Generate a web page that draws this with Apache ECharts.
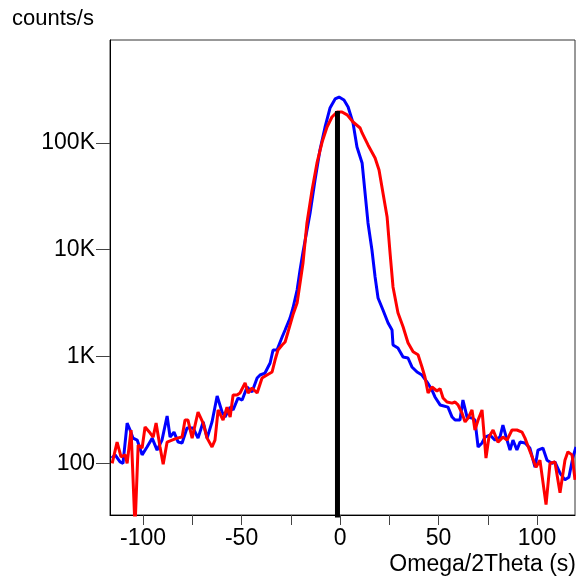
<!DOCTYPE html>
<html>
<head>
<meta charset="utf-8">
<script src="https://cdn.jsdelivr.net/npm/echarts@6/dist/echarts.min.js"></script>
<style>
  html, body { margin: 0; padding: 0; background: #fff; }
  #chart { width: 576px; height: 582px; }
</style>
</head>
<body>
<div id="chart"></div>
<script>
// ── Данные ──────────────────────────────────────────────────────────────────
var blueX = [-115.9, -114.2, -111.7, -110.2, -108.1, -106.6, -105.1, -103, -100.5, -98,
  -95.4, -92.9, -90.4, -87.8, -86.3, -84.3, -82.2, -80.2, -77.7, -74.6,
  -72.1, -69.5, -67.5, -65, -62.4, -59.9, -58.4, -55.8, -54.3, -51.8,
  -49.7, -47.2, -44.7, -42.1, -40.6, -38.1, -35.5, -34, -32, -29.4,
  -27.9, -25.4, -23.9, -21.8, -20.3, -18.8, -15.2, -12.7, -10.2, -7.6,
  -5.1, -2.5, -0.5, 2, 4.1, 6.6, 8.6, 11.2, 12.7, 14.2,
  16.2, 17.8, 19.3, 21.8, 24.4, 26.4, 26.9, 29.4, 32, 34.5,
  36.5, 39.1, 41.6, 44.2, 46.7, 48.2, 50.8, 54.8, 56.9, 58.4,
  60.9, 62.4, 64.5, 67, 68.5, 70.1, 72.1, 73.6, 76.1, 78.7,
  81.2, 82.7, 84.8, 86.3, 87.8, 89.8, 91.4, 93.9, 96.4, 99,
  100.5, 103, 105.1, 107.6, 109.1, 111.7, 114.2, 116.2, 118.3, 119.8];
var blueY = [112, 120, 103, 100, 238, 205, 172, 165, 120, 142,
  172, 133, 165, 277, 176, 196, 158, 155, 214, 214,
  172, 244, 172, 244, 427, 302, 271, 336, 316, 409,
  391, 518, 465, 629, 671, 700, 869, 1150, 1150, 1524,
  1771, 2291, 2844, 4198, 6457, 9506, 22030, 44980, 85900, 141000,
  212000, 258000, 269000, 252000, 217000, 154000, 91600, 64900, 34000, 17800,
  9930, 5550, 3530, 2725, 2060, 1771, 1282, 1200, 989, 968,
  798, 716, 671, 577, 485, 418, 352, 336, 271, 254,
  254, 391, 271, 265, 254, 142, 155, 176, 184, 165,
  176, 228, 165, 133, 165, 133, 158, 155, 139, 92,
  133, 139, 107, 100, 103, 81, 70, 74, 115, 142];

var redX = [-115.7, -113.2, -111.2, -109.1, -108.1, -106.1, -104.1, -102.5, -100.5, -99,
  -96.4, -94.9, -93.4, -91.4, -89.8, -87.8, -85.3, -82.7, -80.2, -78.7,
  -77.2, -75.1, -72.1, -69.5, -67.5, -65, -63.5, -61.9, -59.4, -57.4,
  -55.8, -54.3, -52.3, -50.8, -48.2, -46.7, -44.7, -42.1, -39.6, -37.1,
  -34.5, -33, -31.5, -29.4, -27.9, -26.4, -23.9, -21.8, -20.3, -18.8,
  -16.8, -14.2, -11.7, -9.1, -6.6, -4.1, -1.5, 1, 3.6, 6.6,
  10.2, 11.2, 14.2, 17.8, 19.8, 21.8, 23.9, 25.4, 26.9, 29.4,
  32, 34.5, 37.1, 39.6, 41.6, 43.1, 44.7, 46.7, 49.2, 50.8,
  52.3, 54.3, 56.9, 58.4, 59.9, 61.9, 63.5, 65, 67, 68.5,
  70.1, 72.1, 74.1, 75.6, 77.7, 80.2, 82.7, 84.8, 87.3, 89.8,
  92.4, 93.9, 97.5, 99.5, 101.5, 104.6, 106.6, 109.1, 111.7, 114.2,
  115.7, 117.8, 119.3];
var redY = [100, 158, 115, 120, 100, 205, 25, 148, 139, 219,
  192, 176, 238, 142, 98, 158, 165, 172, 176, 254,
  254, 172, 302, 238, 172, 142, 165, 316, 254, 336,
  271, 436, 436, 455, 565, 455, 507, 455, 629, 671,
  716, 927, 1150, 1282, 1368, 1698, 2455, 3162, 4875, 7516,
  17800, 36200, 64900, 101900, 141000, 175000, 195000, 195000, 183000, 157000,
  138000, 124000, 95700, 72300, 55700, 34000, 20200, 9310, 4480, 2570,
  1900, 1346, 1109, 1040, 798, 643, 455, 518, 475, 500,
  409, 375, 366, 375, 352, 296, 244, 265, 316, 205,
  254, 316, 112, 176, 205, 158, 176, 165, 205, 205,
  196, 172, 115, 92, 107, 41, 100, 103, 53, 107,
  128, 120, 70];

// вертикальная метка пика
var peakX = -1.3;
var peakTop = 199000;

var xTicks = [-100, -75, -50, -25, 0, 25, 50, 75, 100];
var xLabels = [-100, -50, 0, 50, 100];
var yTicks = [100, 1000, 10000, 100000];

function _zip(xs, ys) {
  return xs.map(function (x, i) { return [x, ys[i]]; });
}

var FONT = 'Liberation Sans, Arial, sans-serif';

var chart = echarts.init(document.getElementById('chart'));
chart.setOption({
  animation: false,
  title: [
    { text: 'counts/s', left: 7, top: 3,
      textStyle: { fontFamily: FONT, fontSize: 22, fontWeight: 'normal', color: '#000' } },
    { text: 'Omega/2Theta (s)', right: -5, top: 548,
      textStyle: { fontFamily: FONT, fontSize: 23, fontWeight: 'normal', color: '#000' } }
  ],
  grid: { left: 110, top: 40, right: 1, bottom: 67, show: true, borderColor: '#333', borderWidth: 1 },
  xAxis: {
    type: 'value',
    min: -116.8,
    max: 119.3,
    splitLine: { show: false },
    axisLine: { onZero: false, lineStyle: { color: '#000', width: 1 } },
    axisTick: { customValues: xTicks, length: 10, lineStyle: { color: '#444' } },
    axisLabel: { customValues: xLabels, margin: 12, fontFamily: FONT, fontSize: 23, color: '#000' }
  },
  yAxis: {
    type: 'log',
    min: 32.8,
    max: 920000,
    splitLine: { show: false },
    axisLine: { show: true, onZero: false, lineStyle: { color: '#000', width: 1 } },
    axisTick: { customValues: yTicks, length: 14, lineStyle: { color: '#444' } },
    axisLabel: {
      customValues: yTicks, margin: 15, fontFamily: FONT, fontSize: 23, color: '#000',
      formatter: function (v) { return v >= 1000 ? (v / 1000) + 'K' : String(v); }
    }
  },
  series: [
    { type: 'line', data: _zip(blueX, blueY), showSymbol: false, clip: true,
      lineStyle: { color: '#0000ff', width: 3 }, z: 2 },
    { type: 'line', data: _zip(redX, redY), showSymbol: false, clip: true,
      lineStyle: { color: '#ff0000', width: 3 }, z: 3 },
    { type: 'line', data: [[peakX, 1], [peakX, peakTop]], showSymbol: false, clip: true,
      lineStyle: { color: '#000', width: 5, cap: 'butt' }, z: 4 }
  ]
});
</script>
</body>
</html>
